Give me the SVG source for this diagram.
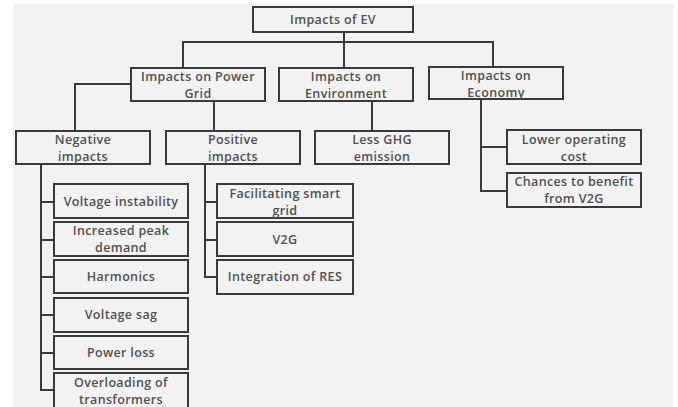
<svg xmlns="http://www.w3.org/2000/svg" width="678" height="407" viewBox="0 0 678 407">
<style>
.box{fill:#f2f2f2;stroke:#3a3a3a;stroke-width:2}
.ln{fill:none;stroke:#3a3a3a;stroke-width:2}
text{font-family:"Open Sans","Noto Sans",sans-serif;font-size:12.5px;font-weight:600;letter-spacing:0.35px;fill:#505050;text-anchor:middle}
</style>
<rect x="0" y="0" width="678" height="407" fill="#ffffff"/>
<rect x="13" y="4" width="660" height="403" fill="#f2f2f2"/>
<g id="connectors">
<path class="ln" d="M344 32V68M183 68V42H493V67"/>
<path class="ln" d="M131 84H75V131M214 101V131M372 101V131"/>
<path class="ln" d="M481 99V191H507M481 147H507"/>
<path class="ln" d="M41 164V390H54M41 202H54M41 240H54M41 277H54M41 315H54M41 353H54"/>
<path class="ln" d="M205 164V277H217M205 202H217M205 240H217"/>
</g>
<g id="ev"><rect class="box" x="253" y="7" width="160" height="25"/><text x="333" y="24">Impacts of EV</text></g>
<g id="grid"><rect class="box" x="131" y="68" width="134" height="33"/><text x="198" y="81">Impacts on Power</text><text x="198" y="98">Grid</text></g>
<g id="env"><rect class="box" x="279" y="68" width="134" height="33"/><text x="346" y="81">Impacts on</text><text x="346" y="98">Environment</text></g>
<g id="eco"><rect class="box" x="429" y="67" width="134" height="32"/><text x="496" y="79.5">Impacts on</text><text x="496" y="96.5">Economy</text></g>
<g id="neg"><rect class="box" x="16" y="131" width="134" height="33"/><text x="83" y="144">Negative</text><text x="83" y="161">impacts</text></g>
<g id="pos"><rect class="box" x="166" y="131" width="134" height="33"/><text x="233" y="144">Positive</text><text x="233" y="161">impacts</text></g>
<g id="ghg"><rect class="box" x="315" y="131" width="134" height="33"/><text x="382" y="144">Less GHG</text><text x="382" y="161">emission</text></g>
<g id="lower"><rect class="box" x="507" y="130" width="134" height="34"/><text x="574" y="143.5">Lower operating</text><text x="574" y="160.5">cost</text></g>
<g id="chances"><rect class="box" x="507" y="173" width="134" height="34"/><text x="574" y="186">Chances to benefit</text><text x="574" y="203">from V2G</text></g>
<g id="vi"><rect class="box" x="54" y="184" width="134" height="34"/><text x="121" y="206">Voltage instability</text></g>
<g id="ipd"><rect class="box" x="54" y="222" width="134" height="34"/><text x="121" y="235">Increased peak</text><text x="121" y="252">demand</text></g>
<g id="harm"><rect class="box" x="54" y="260" width="134" height="33"/><text x="121" y="281">Harmonics</text></g>
<g id="sag"><rect class="box" x="54" y="298" width="134" height="34"/><text x="121" y="319">Voltage sag</text></g>
<g id="loss"><rect class="box" x="54" y="336" width="134" height="33"/><text x="121" y="357">Power loss</text></g>
<g id="over"><rect class="box" x="54" y="373" width="134" height="36"/><text x="121" y="386.5">Overloading of</text><text x="121" y="403.5">transformers</text></g>
<g id="smart"><rect class="box" x="217" y="184" width="136" height="34"/><text x="285" y="197.5">Facilitating smart</text><text x="285" y="214.5">grid</text></g>
<g id="v2g"><rect class="box" x="217" y="222" width="136" height="34"/><text x="285" y="244">V2G</text></g>
<g id="res"><rect class="box" x="217" y="260" width="136" height="34"/><text x="285" y="281">Integration of RES</text></g>
</svg>
